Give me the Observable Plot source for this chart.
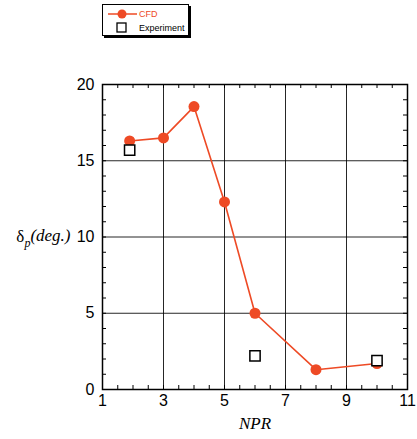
<!DOCTYPE html>
<html>
<head>
<meta charset="utf-8">
<script src="https://cdn.jsdelivr.net/npm/d3@7"></script>
<script src="https://cdn.jsdelivr.net/npm/@observablehq/plot@0.6"></script>
<style>
  html, body { margin: 0; padding: 0; background: #fff; }
  #wrap { position: relative; width: 417px; height: 439px; }
  #legend { position: relative; height: 40px; width: 417px; }
  #legend .box { position: absolute; left: 102px; top: 4px; width: 85px; height: 30px;
    border: 1px solid #000; box-shadow: 2px 2px 0 #000; background: #fff;
    font-family: "Liberation Sans", Arial, sans-serif; font-size: 9px; }
  #legend .row { position: absolute; left: 0; height: 14px; display: flex; align-items: center; }
  #legend svg { display: block; }
</style>
</head>
<body>
<div id="wrap">
  <div id="legend"></div>
  <div id="chart"></div>
</div>
<script>
// ---- data ----
const nprCFD = [1.89, 3, 4, 5, 6, 8, 10];
const deltaCFD = [16.3, 16.5, 18.55, 12.3, 5.0, 1.3, 1.7];
const nprExp = [1.89, 6, 10];
const deltaExp = [15.7, 2.2, 1.9];
const xMajor = [1, 3, 5, 7, 9, 11];
const yMajor = [0, 5, 10, 15, 20];
const xMinor = d3.range(1, 11.01, 0.5);
const yMinor = d3.range(0, 20.01, 1);
const seriesNames = ["CFD", "Experiment"];

const cfdColor = "#EE4A25";
const cfd = nprCFD.map((x, i) => ({x, y: deltaCFD[i]}));
const exp = nprExp.map((x, i) => ({x, y: deltaExp[i]}));

// ---- legend (HTML) ----
const legend = document.getElementById("legend");
legend.innerHTML = `
  <div class="box">
    <div class="row" style="top:2px">
      <svg width="36" height="14"><line x1="5" x2="34" y1="7" y2="7" stroke="${cfdColor}" stroke-width="1.5"/><circle cx="19" cy="7" r="4.5" fill="${cfdColor}"/></svg>
      <span style="color:${cfdColor}">${seriesNames[0]}</span>
    </div>
    <div class="row" style="top:16px">
      <svg width="36" height="14"><rect x="14" y="2" width="9" height="9" fill="#fff" stroke="#000" stroke-width="1.3"/></svg>
      <span style="color:#000">${seriesNames[1]}</span>
    </div>
  </div>`;

// ---- chart ----
const W = 417, H = 399, ML = 102, MR = 10, MT = 44, MB = 50;
const innerW = W - ML - MR, innerH = H - MT - MB, tickLen = 4;
const chart = Plot.plot({
  width: W,
  height: H,
  marginLeft: ML,
  marginRight: MR,
  marginTop: MT,
  marginBottom: MB,
  style: {fontFamily: "'Liberation Sans', Arial, sans-serif", fontSize: "16px", color: "#000", background: "#fff"},
  x: {domain: [1, 11]},
  y: {domain: [0, 20]},
  marks: [
    Plot.gridX(xMajor, {stroke: "#000", strokeOpacity: 0.85, strokeWidth: 1}),
    Plot.gridY(yMajor, {stroke: "#000", strokeOpacity: 0.85, strokeWidth: 1}),
    // inward minor ticks on all four sides
    Plot.tickX(xMinor, {x: d => d, insetTop: innerH - tickLen, stroke: "#000", strokeWidth: 1}),
    Plot.tickX(xMinor, {x: d => d, insetBottom: innerH - tickLen, stroke: "#000", strokeWidth: 1}),
    Plot.tickY(yMinor, {y: d => d, insetRight: innerW - tickLen, stroke: "#000", strokeWidth: 1}),
    Plot.tickY(yMinor, {y: d => d, insetLeft: innerW - tickLen, stroke: "#000", strokeWidth: 1}),
    // labels
    Plot.axisX({anchor: "bottom", ticks: xMajor, tickSize: 0, tickPadding: 5, label: null, fontSize: 16}),
    Plot.axisY({anchor: "left", ticks: yMajor, tickSize: 0, tickPadding: 8, label: null, fontSize: 16}),
    Plot.frame({stroke: "#000", strokeWidth: 1.5}),
    Plot.line(cfd, {x: "x", y: "y", stroke: cfdColor, strokeWidth: 1.6}),
    Plot.dot(cfd, {x: "x", y: "y", r: 5.5, fill: cfdColor, stroke: "none"}),
    Plot.dot(exp, {x: "x", y: "y", symbol: "square", r: 5.8, fill: "#fff", stroke: "#000", strokeWidth: 1.5}),
    Plot.text(["NPR"], {frameAnchor: "bottom", dy: 27, lineAnchor: "top", text: d => d,
      fontFamily: "'Liberation Serif', 'Times New Roman', serif", fontStyle: "italic", fontSize: 17, className: "xlab"}),
    Plot.text(["δp(deg.)"], {frameAnchor: "left", dx: -32, textAnchor: "end", text: d => d,
      fontFamily: "'Liberation Serif', 'Times New Roman', serif", fontSize: 17, className: "ylab"})
  ]
});
document.getElementById("chart").appendChild(chart);

// subscript formatting for y label
d3.select(chart).selectAll(".ylab text").each(function() {
  const t = d3.select(this);
  t.text(null);
  t.append("tspan").text("δ");
  t.append("tspan").attr("font-style", "italic").attr("font-size", 12).attr("dy", "0.35em").text("p");
  t.append("tspan").attr("font-style", "italic").attr("dy", "-0.35em").text("(deg.)");
});
</script>
</body>
</html>
